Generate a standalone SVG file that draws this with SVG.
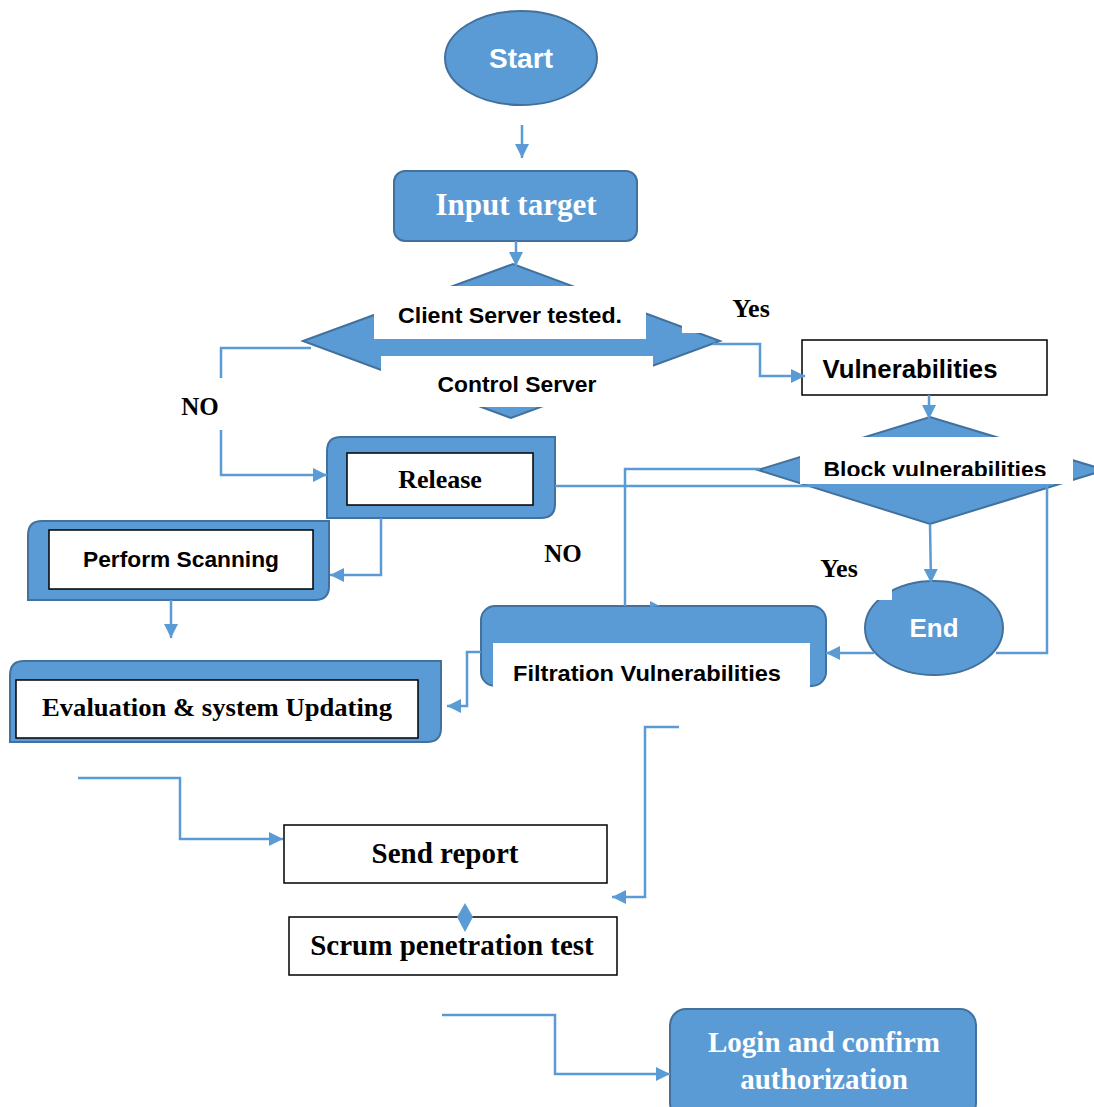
<svg xmlns="http://www.w3.org/2000/svg" width="1094" height="1107" viewBox="0 0 1094 1107">
<style>
.bf{fill:#5B9BD5;stroke:#41719C;stroke-width:2}
.wb{fill:#FFFFFF;stroke:#000000;stroke-width:1.5}
.wh{fill:#FFFFFF;stroke:none}
.ln{fill:none;stroke:#5B9BD5;stroke-width:2.5}
.sa{font-family:"Liberation Sans",Arial,sans-serif;font-weight:bold;text-anchor:middle}
.se{font-family:"Liberation Serif","Times New Roman",serif;font-weight:bold;text-anchor:middle}
.k{fill:#000000}
.w{fill:#FFFFFF}
</style>
<defs>
<marker id="ah" viewBox="0 0 10 10" refX="10" refY="5" markerWidth="15" markerHeight="14" markerUnits="userSpaceOnUse" orient="auto">
<path d="M0,0 L10,5 L0,10 Z" fill="#5B9BD5"/>
</marker>
<clipPath id="cb"><rect x="790" y="440" width="300" height="36"/></clipPath>
</defs>
<rect x="0" y="0" width="1094" height="1107" fill="#FFFFFF"/>

<g id="start">
<ellipse class="bf" cx="521" cy="58" rx="76" ry="47"/>
<text class="sa w" x="521" y="68" font-size="27" textLength="64" lengthAdjust="spacingAndGlyphs">Start</text>
</g>

<g id="input-target">
<rect class="bf" x="394" y="171" width="243" height="70" rx="11"/>
<text class="se w" x="516" y="215" font-size="31">Input target</text>
</g>

<g id="client-server">
<polygon class="bf" points="303,341 513,264 720,341 511,418"/>
<rect class="wh" x="374" y="286" width="272" height="53"/>
<rect class="wh" x="381" y="356" width="272" height="51"/>
<rect class="wh" x="682" y="300" width="45" height="33"/>
<text class="sa k" x="510" y="323" font-size="22" textLength="224" lengthAdjust="spacingAndGlyphs">Client Server tested.</text>
<text class="sa k" x="517" y="392" font-size="22" textLength="159" lengthAdjust="spacingAndGlyphs">Control Server</text>
</g>

<g id="vulnerabilities">
<rect class="wb" x="802" y="340" width="245" height="55"/>
<text class="sa k" x="910" y="378" font-size="25" textLength="175" lengthAdjust="spacingAndGlyphs">Vulnerabilities</text>
</g>

<g id="block-vulnerabilities">
<polygon class="bf" points="758,470 930,417 1105,470 930,524"/>
<rect class="wh" x="800" y="437" width="273" height="47"/>
<text class="sa k" x="935" y="477" font-size="22" textLength="223" lengthAdjust="spacingAndGlyphs" clip-path="url(#cb)">Block vulnerabilities</text>
</g>

<g id="release">
<path class="bf" d="M327,451 Q327,437 341,437 H555 V504 Q555,518 541,518 H327 Z"/>
<rect class="wb" x="347" y="453" width="186" height="52"/>
<text class="se k" x="440" y="488" font-size="26">Release</text>
</g>

<g id="perform-scanning">
<path class="bf" d="M28,535 Q28,521 42,521 H329 V586 Q329,600 315,600 H28 Z"/>
<rect class="wb" x="49" y="530" width="264" height="59"/>
<text class="sa k" x="181" y="567" font-size="22" textLength="196" lengthAdjust="spacingAndGlyphs">Perform Scanning</text>
</g>

<g id="evaluation">
<path class="bf" d="M10,675 Q10,661 24,661 H441 V728 Q441,742 427,742 H10 Z"/>
<rect class="wb" x="16" y="680" width="402" height="58"/>
<text class="se k" x="217" y="716" font-size="26" textLength="350" lengthAdjust="spacingAndGlyphs">Evaluation &amp; system Updating</text>
</g>

<g id="filtration">
<rect class="bf" x="481" y="606" width="345" height="80" rx="14"/>
<rect class="wh" x="493" y="643" width="317" height="45"/>
<polygon points="650,601 660,606 650,607" fill="#5B9BD5"/>
<text class="sa k" x="647" y="681" font-size="22" textLength="268" lengthAdjust="spacingAndGlyphs">Filtration Vulnerabilities</text>
</g>

<g id="end">
<ellipse class="bf" cx="934" cy="628" rx="69" ry="47"/>
<rect class="wh" x="862" y="576" width="30" height="24"/>
<text class="sa w" x="934" y="637" font-size="26" textLength="49" lengthAdjust="spacingAndGlyphs">End</text>
</g>

<g id="send-report">
<rect class="wb" x="284" y="825" width="323" height="58"/>
<text class="se k" x="445" y="863" font-size="29">Send report</text>
</g>

<g id="scrum">
<rect class="wb" x="289" y="917" width="328" height="58"/>
<text class="se k" x="452" y="955" font-size="29">Scrum penetration test</text>
</g>

<g id="login">
<rect class="bf" x="670" y="1009" width="306" height="110" rx="16"/>
<text class="se w" x="824" y="1052" font-size="29">Login and confirm</text>
<text class="se w" x="824" y="1089" font-size="29">authorization</text>
</g>

<g id="labels">
<text class="se k" x="751" y="317" font-size="26">Yes</text>
<text class="se k" x="200" y="415" font-size="25">NO</text>
<text class="se k" x="563" y="562" font-size="25">NO</text>
<text class="se k" x="839" y="577" font-size="26">Yes</text>
</g>

<g id="connectors">
<path class="ln" d="M522,125 V158" marker-end="url(#ah)"/>
<path class="ln" d="M516,241 V266" marker-end="url(#ah)"/>
<path class="ln" d="M713,344 H760 V376 H805" marker-end="url(#ah)"/>
<path class="ln" d="M311,348 H221 V378"/>
<path class="ln" d="M221,430 V475 H327" marker-end="url(#ah)"/>
<path class="ln" d="M929,395 V419" marker-end="url(#ah)"/>
<path class="ln" d="M930,524 L931,583" marker-end="url(#ah)"/>
<path class="ln" d="M555,486 H1047 V653 H996"/>
<path class="ln" d="M874,653 H826" marker-end="url(#ah)"/>
<path class="ln" d="M760,469 H625 V606"/>
<path class="ln" d="M381,518 V575 H330" marker-end="url(#ah)"/>
<path class="ln" d="M171,600 V638" marker-end="url(#ah)"/>
<path class="ln" d="M481,652 H467 V706 H447" marker-end="url(#ah)"/>
<path class="ln" d="M679,727 H645 V897 H612" marker-end="url(#ah)"/>
<path class="ln" d="M78,778 H180 V839 H283" marker-end="url(#ah)"/>
<path class="ln" d="M442,1015 H555 V1074 H670" marker-end="url(#ah)"/>
<polygon points="465,903 473,917 465,932 457,917" fill="#5B9BD5"/>
</g>
</svg>
